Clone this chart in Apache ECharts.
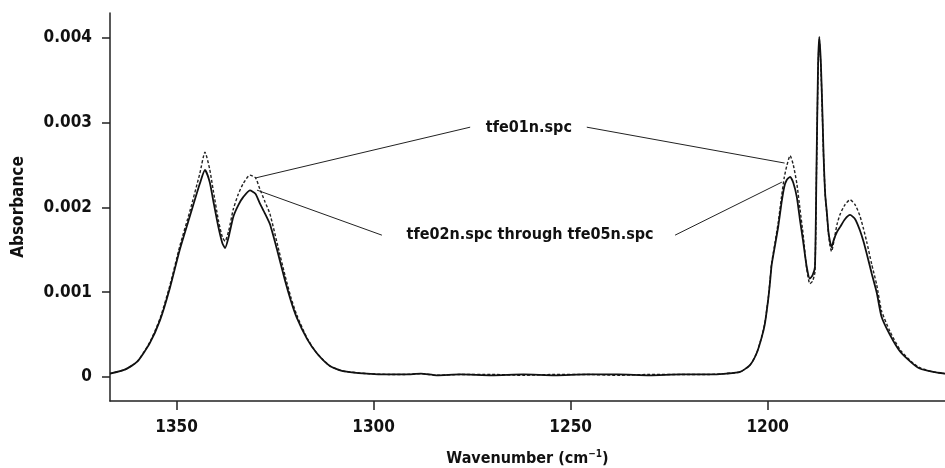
<!DOCTYPE html>
<html>
<head>
<meta charset="utf-8">
<script src="https://cdn.jsdelivr.net/npm/echarts@6.0.0/dist/echarts.min.js"></script>
<style>
html,body{margin:0;padding:0;background:#fff;}
#chart{width:945px;height:468px;}
</style>
</head>
<body>
<div id="chart"></div>
<script>
// Wavenumber (cm-1) sample positions
const wavenumbers = [
  1366.9,1363.0,1360.0,1356.8,1354.2,1351.7,1349.2,1346.6,1344.1,1342.8,
  1341.6,1340.7,1339.4,1338.4,1337.7,1336.8,1335.6,1334.3,1333.1,1331.4,
  1330.0,1328.9,1327.6,1326.3,1324.5,1322.5,1321.0,1319.5,1316.9,1314.4,
  1311.1,1307.8,1301.7,1296.0,1292.0,1288.0,1284.0,1278.0,1270.0,1262.0,
  1254.0,1246.0,1238.0,1230.0,1222.0,1215.0,1210.5,1207.0,1204.5,1202.8,
  1201.5,1200.7,1199.85,1199.4,1199.0,1198.15,1197.3,1196.5,1195.8,1195.2,
  1194.3,1193.5,1192.6,1191.8,1191.0,1190.1,1189.3,1188.6,1188.0,1187.6,
  1187.2,1186.9,1186.5,1186.1,1185.8,1185.4,1185.0,1184.6,1184.2,1183.8,
  1183.2,1182.4,1181.6,1180.4,1179.1,1177.8,1176.6,1175.7,1174.9,1173.6,
  1172.3,1171.1,1169.0,1166.4,1163.5,1161.4,1158.0,1155.0
];
// tfe01n.spc absorbance
const tfe01 = [
  0.00004,0.00009,0.00018,0.00041,0.00069,0.00108,0.00154,0.00196,0.00240,0.00265,
  0.00245,0.00220,0.00185,0.00165,0.00160,0.00172,0.00198,0.00216,0.00228,0.00238,
  0.00235,0.00222,0.00207,0.00192,0.00158,0.00120,0.00094,0.00073,0.00046,0.00028,
  0.00013,0.00007,0.00004,0.00003,0.00003,0.00004,0.00002,0.00003,0.00003,0.00002,
  0.00003,0.00003,0.00002,0.00003,0.00003,0.00003,0.00004,0.00006,0.00014,0.00028,
  0.00048,0.00064,0.00093,0.00114,0.00134,0.00158,0.00183,0.00212,0.00235,0.00248,
  0.00261,0.00250,0.00228,0.00198,0.00168,0.00128,0.00110,0.00113,0.00124,0.00245,
  0.00365,0.00398,0.00365,0.00305,0.00258,0.00215,0.00193,0.00170,0.00155,0.00148,
  0.00160,0.00180,0.00192,0.00203,0.00209,0.00203,0.00190,0.00175,0.00160,0.00133,
  0.00108,0.00078,0.00054,0.00032,0.00018,0.00011,0.00006,0.00004
];
// tfe02n.spc through tfe05n.spc (overlapping) absorbance
const tfe02to05 = [
  0.00004,0.00009,0.00018,0.00040,0.00067,0.00105,0.00150,0.00190,0.00228,0.00244,
  0.00230,0.00208,0.00177,0.00158,0.00152,0.00165,0.00189,0.00203,0.00212,0.00220,
  0.00216,0.00205,0.00193,0.00180,0.00150,0.00114,0.00090,0.00070,0.00045,0.00028,
  0.00013,0.00007,0.00004,0.00003,0.00003,0.00004,0.00002,0.00003,0.00002,0.00003,
  0.00002,0.00003,0.00003,0.00002,0.00003,0.00003,0.00004,0.00006,0.00014,0.00028,
  0.00047,0.00063,0.00092,0.00112,0.00132,0.00155,0.00178,0.00205,0.00224,0.00232,
  0.00236,0.00229,0.00212,0.00185,0.00160,0.00130,0.00116,0.00120,0.00130,0.00250,
  0.00370,0.00401,0.00370,0.00310,0.00260,0.00215,0.00195,0.00172,0.00160,0.00153,
  0.00162,0.00171,0.00177,0.00186,0.00191,0.00186,0.00173,0.00160,0.00146,0.00122,
  0.00099,0.00071,0.00050,0.00030,0.00017,0.00010,0.00006,0.00004
];
const xTicks = [1350, 1300, 1250, 1200];
const yTicks = [0, 0.001, 0.002, 0.003, 0.004];
const labelTexts = ['tfe01n.spc', 'tfe02n.spc through tfe05n.spc'];

const FONT = 'DejaVu Sans Condensed';
const pair = (vals) => wavenumbers.map((w, i) => [w, vals[i]]);
const noLabel = { show: false };

const chart = echarts.init(document.getElementById('chart'), null, { renderer: 'canvas' });
chart.setOption({
  animation: false,
  backgroundColor: '#fff',
  grid: { left: 110, right: 0, top: 13, bottom: 67, containLabel: false, outerBoundsMode: 'none' },
  xAxis: {
    type: 'value', inverse: true, min: 1155, max: 1366.9,
    name: 'Wavenumber (cm{sup|\u22121})', nameLocation: 'middle', nameGap: 48,
    nameTextStyle: {
      fontFamily: FONT, fontWeight: 'bold', fontSize: 16, color: '#111', lineHeight: 20,
      rich: { sup: { fontFamily: FONT, fontWeight: 'bold', fontSize: 10, verticalAlign: 'top', lineHeight: 12, color: '#111' } }
    },
    axisLine: { show: true, onZero: false, lineStyle: { color: '#222', width: 1.5 } },
    axisTick: { show: true, length: 9, customValues: xTicks, lineStyle: { color: '#222', width: 1.5 } },
    axisLabel: {
      customValues: xTicks, margin: 18, fontFamily: FONT, fontWeight: 'bold', fontSize: 17, color: '#111',
      formatter: (v) => String(Math.round(v))
    },
    splitLine: { show: false }
  },
  yAxis: {
    type: 'value', min: -0.000283, max: 0.004291,
    name: 'Absorbance', nameLocation: 'middle', nameGap: 83, nameRotate: 90,
    nameTextStyle: { fontFamily: FONT, fontWeight: 'bold', fontSize: 17, color: '#111' },
    axisLine: { show: true, onZero: false, lineStyle: { color: '#222', width: 1.5 } },
    axisTick: { show: true, length: 8, customValues: yTicks, lineStyle: { color: '#222', width: 1.5 } },
    axisLabel: {
      customValues: yTicks, margin: 18, fontFamily: FONT, fontWeight: 'bold', fontSize: 17, color: '#111',
      formatter: (v) => (Math.abs(v) < 1e-9 ? '0' : v.toFixed(3))
    },
    splitLine: { show: false }
  },
  series: [
    {
      name: 'tfe01n.spc', type: 'line', data: pair(tfe01), showSymbol: false, smooth: 0.2,
      lineStyle: { color: '#222', width: 1.4, type: [3, 2] }, z: 2, silent: true,
      markLine: {
        silent: true, symbol: ['none', 'none'], label: noLabel,
        lineStyle: { color: '#222', width: 1, type: 'solid' },
        data: [
          [{ coord: [1275.5, 0.002945] }, { coord: [1330.1, 0.002345] }],
          [{ coord: [1245.9, 0.002945] }, { coord: [1195.7, 0.002522] }]
        ]
      },
      markPoint: {
        silent: true, symbol: 'rect', symbolSize: 1, itemStyle: { color: 'rgba(0,0,0,0)' },
        label: { show: true, position: 'inside', formatter: '{b}', fontFamily: FONT, fontWeight: 'bold', fontSize: 16, color: '#111' },
        data: [{ name: labelTexts[0], coord: [1260.6, 0.002935] }]
      }
    },
    {
      name: 'tfe02n.spc through tfe05n.spc', type: 'line', data: pair(tfe02to05), showSymbol: false, smooth: 0.2,
      lineStyle: { color: '#111', width: 1.8 }, z: 3, silent: true,
      markLine: {
        silent: true, symbol: ['none', 'none'], label: noLabel,
        lineStyle: { color: '#222', width: 1, type: 'solid' },
        data: [
          [{ coord: [1297.9, 0.001672] }, { coord: [1329.6, 0.002203] }],
          [{ coord: [1223.5, 0.001672] }, { coord: [1196.4, 0.002297] }]
        ]
      },
      markPoint: {
        silent: true, symbol: 'rect', symbolSize: 1, itemStyle: { color: 'rgba(0,0,0,0)' },
        label: { show: true, position: 'inside', formatter: '{b}', fontFamily: FONT, fontWeight: 'bold', fontSize: 16, color: '#111' },
        data: [{ name: labelTexts[1], coord: [1260.3, 0.001672] }]
      }
    }
  ]
});
</script>
</body>
</html>
